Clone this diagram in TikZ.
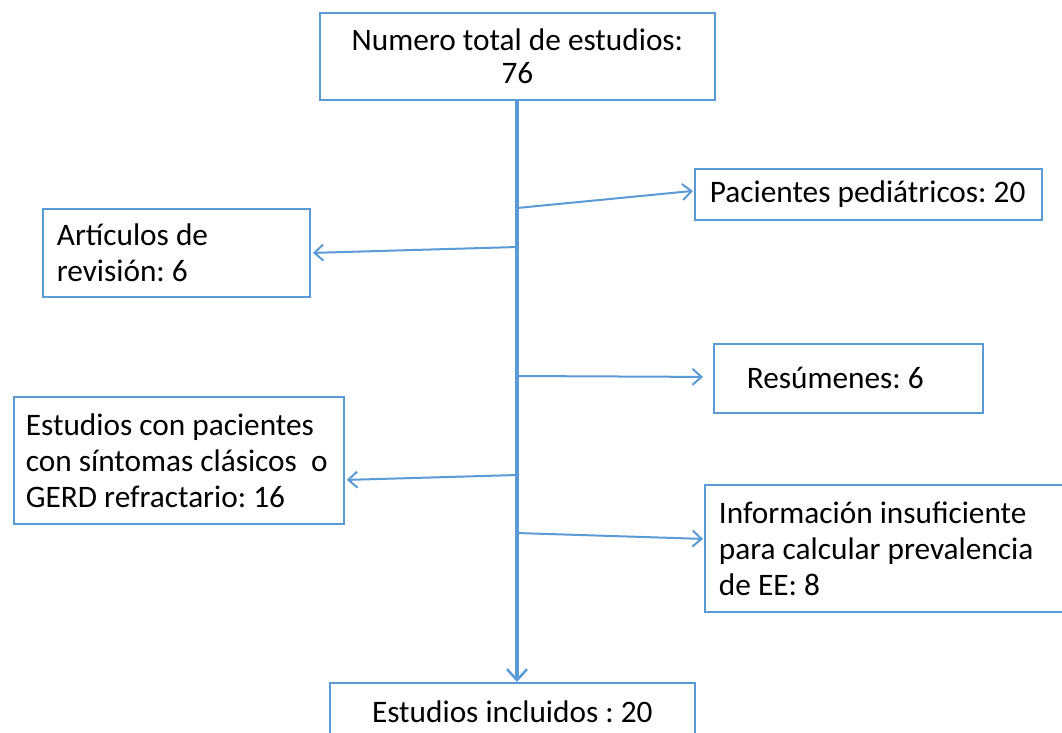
\documentclass[tikz,border=0pt]{standalone}
\usepackage{fontspec}
\setmainfont{Carlito}
\usetikzlibrary{arrows.meta}
\definecolor{flowblue}{RGB}{91,155,213}
\frenchspacing
\begin{document}
\begin{tikzpicture}[x=1pt,y=-1pt,
  box/.style={draw=flowblue,line width=1.8pt,fill=white,rectangle,anchor=north west,
    inner ysep=0pt,font=\fontsize{31.3}{36}\selectfont,text=black},
  branch/.style={draw=flowblue,line width=2pt,-{Straight Barb[length=9pt,width=16pt,line width=2pt]}},
  trunk/.style={draw=flowblue,line width=3.5pt,-{Straight Barb[length=11pt,width=20pt,line width=2.5pt]}}]
\clip (0,0) rectangle (1062,732);
\fill[white] (0,0) rectangle (1062,732);
% boxes
\node[box,minimum width=395pt,minimum height=87pt,inner xsep=8pt,text width=377pt,align=flush center,
  font=\fontsize{31.3}{33}\selectfont] (top) at (319,12) {Numero total de estudios:\\76};
\node[box,minimum width=347pt,minimum height=51pt,inner xsep=14pt,text width=317pt,align=flush left] (pac) at (694,168) {Pacientes pediátricos: 20};
\node[box,minimum width=267pt,minimum height=88pt,inner xsep=13pt,text width=239pt,align=flush left] (art) at (42,208) {Artículos de\\revisión: 6};
\node[box,minimum width=269pt,minimum height=69pt,inner xsep=32pt,text width=203pt,align=flush left] (res) at (713,343) {Resúmenes: 6};
\node[box,minimum width=330pt,minimum height=127pt,inner xsep=11pt,text width=306pt,align=flush left] (ecp) at (13,396) {Estudios con pacientes\\con síntomas clásicos~ o\\GERD refractario: 16};
\node[box,minimum width=380pt,minimum height=127pt,inner xsep=13pt,text width=352pt,align=flush left] (inf) at (704,484) {Información insuficiente\\para calcular prevalencia\\de EE: 8};
\node[box,minimum width=365pt,minimum height=57pt,inner xsep=10pt,text width=343pt,align=flush center] (inc) at (329,682) {Estudios incluidos : 20};
% branch origins on the trunk
\coordinate (b1) at (517,208);
\coordinate (b2) at (517,247);
\coordinate (b3) at (517,376);
\coordinate (b4) at (517,475);
\coordinate (b5) at (517,533);
% connectors
\draw[branch] (b1) -- ([xshift=-1pt,yshift=3.5pt]pac.west);
\draw[branch] (b2) -- ([xshift=2pt,yshift=-0pt]art.east);
\draw[branch] (b3) -- ([xshift=-10pt,yshift=1.5pt]res.west);
\draw[branch] (b4) -- ([xshift=2pt,yshift=-19.5pt]ecp.east);
\draw[branch] (b5) -- ([xshift=-1pt,yshift=9.5pt]inf.west);
\draw[trunk] (top.south -| b1) -- (inc.north -| b1);
\end{tikzpicture}
\end{document}
